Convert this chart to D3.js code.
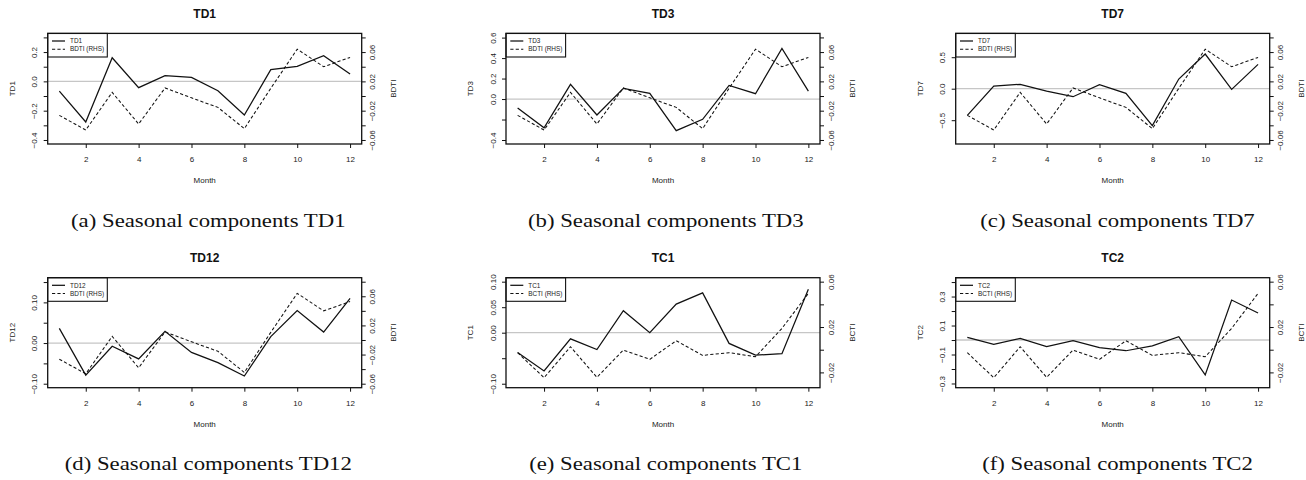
<!DOCTYPE html>
<html>
<head>
<meta charset="utf-8">
<script src="https://cdn.jsdelivr.net/npm/d3@7"></script>
<style>
  body { margin: 0; background: #fff; }
  svg { display: block; }
</style>
</head>
<body>
<svg id="fig" width="1306" height="480"></svg>
<script>
// Monthly seasonal components of freight rates and the matching index
const months = [1, 2, 3, 4, 5, 6, 7, 8, 9, 10, 11, 12];

// Baltic indices (right-hand scale)
const bdti = [-0.0264, -0.0464, 0.005, -0.0382, 0.011, -0.0025, -0.0155, -0.0445, 0.0105, 0.064, 0.040, 0.0527];
const bcti = [-0.0026, -0.0247, 0.0026, -0.0244, -0.0003, -0.0085, 0.0079, -0.005, -0.0026, -0.0062, 0.0188, 0.0497];

// Route seasonal components (left-hand scale)
const td1  = [-0.066, -0.277, 0.161, -0.043, 0.039, 0.027, -0.064, -0.230, 0.080, 0.102, 0.175, 0.050];
const td3  = [-0.088, -0.280, 0.143, -0.156, 0.104, 0.055, -0.309, -0.198, 0.133, 0.052, 0.494, 0.078];
const td7  = [-0.423, 0.042, 0.069, -0.037, -0.127, 0.063, -0.074, -0.587, 0.153, 0.550, -0.011, 0.386];
const td12 = [0.036, -0.079, -0.008, -0.039, 0.029, -0.023, -0.048, -0.081, 0.016, 0.080, 0.027, 0.110];
const tc1  = [-0.039, -0.075, -0.012, -0.033, 0.043, 0.000, 0.056, 0.078, -0.021, -0.044, -0.041, 0.085];
const tc2  = [0.018, -0.030, 0.011, -0.046, -0.005, -0.053, -0.074, -0.041, 0.023, -0.241, 0.276, 0.186];

const routeNames = ["TD1", "TD3", "TD7", "TD12", "TC1", "TC2"];
const routeSeries = [td1, td3, td7, td12, tc1, tc2];
const indexNames = ["BDTI", "BDTI", "BDTI", "BDTI", "BCTI", "BCTI"];
const indexSeries = { BDTI: bdti, BCTI: bcti };
const captions = [
  "(a) Seasonal components TD1",
  "(b) Seasonal components TD3",
  "(c) Seasonal components TD7",
  "(d) Seasonal components TD12",
  "(e) Seasonal components TC1",
  "(f) Seasonal components TC2"
];

// Axis ranges and ticks
const xDomain = [0.56, 12.44];
const xTicks = [2, 4, 6, 8, 10, 12];
const leftDomains = [
  [-0.4273, 0.3273],
  [-0.439, 0.641],
  [-0.878, 0.878],
  [-0.1098, 0.1607],
  [-0.1078, 0.1078],
  [-0.329, 0.430]
];
const leftTicks = [
  [-0.4, -0.3, -0.2, -0.1, 0, 0.1, 0.2, 0.3],
  [-0.4, -0.2, 0, 0.2, 0.4, 0.6],
  [-0.5, 0, 0.5],
  [-0.10, -0.05, 0, 0.05, 0.10, 0.15],
  [-0.10, -0.05, 0, 0.05, 0.10],
  [-0.3, -0.2, -0.1, 0, 0.1, 0.2, 0.3, 0.4]
];
const leftLabels = [
  [-0.4, -0.2, 0, 0.2],
  [-0.4, 0, 0.2, 0.4, 0.6],
  [-0.5, 0, 0.5],
  [-0.10, 0, 0.10],
  [-0.10, 0, 0.05, 0.10],
  [-0.3, -0.1, 0.1, 0.3]
];
const leftDecimals = [1, 1, 1, 2, 2, 1];
const rightDomains = { BDTI: [-0.0655, 0.0855], BCTI: [-0.0335, 0.0635] };
const rightTicks = {
  BDTI: [-0.06, -0.04, -0.02, 0, 0.02, 0.04, 0.06, 0.08],
  BCTI: [-0.02, 0, 0.02, 0.04, 0.06]
};
const rightLabels = {
  BDTI: [-0.06, -0.02, 0.02, 0.06],
  BCTI: [-0.02, 0.02, 0.06]
};

// Grid layout of the six panels
const colLeft = [47.7, 506, 955.7];
const colCenter = [208.3, 665.8, 1117.5];
const plotW = 314;
const rowTop = [33.4, 277.7];
const plotH = [110.6, 110];
const captionBase = [226.5, 470];

const svg = d3.select("#fig");
const sans = "'Liberation Sans', Arial, Helvetica, sans-serif";
const serif = "'Liberation Serif', 'Times New Roman', serif";
const inList = (list, v) => list.some(t => Math.abs(t - v) < 1e-9);
const fmt = (v, dec) => {
  const s = Math.abs(v).toFixed(dec);
  return (v < -1e-12 ? "\u2212" : "") + s;
};

routeNames.forEach((name, i) => {
  const col = i % 3, row = Math.floor(i / 3);
  const W = plotW, H = plotH[row];
  const idx = indexNames[i];

  const x = d3.scaleLinear().domain(xDomain).range([0, W]);
  const yL = d3.scaleLinear().domain(leftDomains[i]).range([H, 0]);
  const yR = d3.scaleLinear().domain(rightDomains[idx]).range([H, 0]);

  const g = svg.append("g")
    .attr("transform", `translate(${colLeft[col]},${rowTop[row]})`);

  // zero reference line
  g.append("line")
    .attr("x1", 0).attr("x2", W)
    .attr("y1", yL(0)).attr("y2", yL(0))
    .attr("stroke", "#c6c6c6").attr("stroke-width", 1.3);

  const routeLine = d3.line().x((d, k) => x(months[k])).y(d => yL(d));
  const indexLine = d3.line().x((d, k) => x(months[k])).y(d => yR(d));

  g.append("path")
    .attr("d", indexLine(indexSeries[idx]))
    .attr("fill", "none").attr("stroke", "#111")
    .attr("stroke-width", 1.05).attr("stroke-dasharray", "3.2,2.2");

  g.append("path")
    .attr("d", routeLine(routeSeries[i]))
    .attr("fill", "none").attr("stroke", "#111")
    .attr("stroke-width", 1.25).attr("stroke-linejoin", "miter");

  // frame
  g.append("rect")
    .attr("x", 0).attr("y", 0).attr("width", W).attr("height", H)
    .attr("fill", "none").attr("stroke", "#111").attr("stroke-width", 1.3);

  // bottom axis
  const ax = g.append("g")
    .attr("transform", `translate(0,${H})`)
    .call(d3.axisBottom(x).tickValues(xTicks).tickSize(4).tickFormat(d3.format("d")));
  ax.select(".domain").remove();
  ax.selectAll(".tick line").attr("stroke", "#111");
  ax.selectAll(".tick text")
    .attr("y", 18).attr("dy", 0)
    .attr("font-family", sans).attr("font-size", 8).attr("fill", "#222");

  // left axis
  const al = g.append("g")
    .call(d3.axisLeft(yL).tickValues(leftTicks[i]).tickSize(4)
      .tickFormat(d => inList(leftLabels[i], d) ? fmt(d, leftDecimals[i]) : ""));
  al.select(".domain").remove();
  al.selectAll(".tick line").attr("stroke", "#111");
  al.selectAll(".tick text")
    .attr("transform", "rotate(-90)")
    .attr("x", 0).attr("y", -10.5).attr("dy", 0)
    .attr("text-anchor", "middle")
    .attr("font-family", sans).attr("font-size", 8).attr("fill", "#222");

  // right axis
  const ar = g.append("g")
    .attr("transform", `translate(${W},0)`)
    .call(d3.axisRight(yR).tickValues(rightTicks[idx]).tickSize(4)
      .tickFormat(d => inList(rightLabels[idx], d) ? fmt(d, 2) : ""));
  ar.select(".domain").remove();
  ar.selectAll(".tick line").attr("stroke", "#111");
  ar.selectAll(".tick text")
    .attr("transform", "rotate(-90)")
    .attr("x", 0).attr("y", 13.5).attr("dy", 0)
    .attr("text-anchor", "middle")
    .attr("font-family", sans).attr("font-size", 8).attr("fill", "#222");

  // titles and axis names
  g.append("text")
    .attr("x", W / 2).attr("y", -15.3)
    .attr("text-anchor", "middle")
    .attr("font-family", sans).attr("font-size", 12).attr("font-weight", "bold")
    .attr("fill", "#111")
    .text(name);

  g.append("text")
    .attr("x", W / 2).attr("y", H + 39.5)
    .attr("text-anchor", "middle")
    .attr("font-family", sans).attr("font-size", 8).attr("fill", "#222")
    .text("Month");

  g.append("text")
    .attr("transform", `translate(-33,${H / 2}) rotate(-90)`)
    .attr("text-anchor", "middle")
    .attr("font-family", sans).attr("font-size", 8).attr("fill", "#222")
    .text(name);

  g.append("text")
    .attr("transform", `translate(${W + 34.5},${H / 2}) rotate(-90)`)
    .attr("text-anchor", "middle")
    .attr("font-family", sans).attr("font-size", 8).attr("fill", "#222")
    .text(idx);

  // legend
  const lg = g.append("g");
  lg.append("rect")
    .attr("x", 0).attr("y", 0).attr("width", 59.6).attr("height", 23.6)
    .attr("fill", "none").attr("stroke", "#111").attr("stroke-width", 1.1);
  const entries = [
    { label: name, dash: null, w: 1.25 },
    { label: idx + " (RHS)", dash: "3.2,2.2", w: 1.05 }
  ];
  entries.forEach((e, k) => {
    const yy = 7.6 + k * 8.2;
    lg.append("line")
      .attr("x1", 4.3).attr("x2", 17.3).attr("y1", yy).attr("y2", yy)
      .attr("stroke", "#111").attr("stroke-width", e.w)
      .attr("stroke-dasharray", e.dash);
    lg.append("text")
      .attr("x", 22.3).attr("y", yy).attr("dy", "0.35em")
      .attr("font-family", sans).attr("font-size", 6.4).attr("fill", "#222")
      .text(e.label);
  });

  // caption below the panel
  const cap = svg.append("text")
    .attr("x", colCenter[col]).attr("y", captionBase[row])
    .attr("text-anchor", "middle")
    .attr("font-family", serif).attr("font-size", 18.5).attr("fill", "#111")
    .text(captions[i]);
  const natural = cap.node().getComputedTextLength();
  cap.attr("textLength", natural * 1.23).attr("lengthAdjust", "spacingAndGlyphs");
});
</script>
</body>
</html>
